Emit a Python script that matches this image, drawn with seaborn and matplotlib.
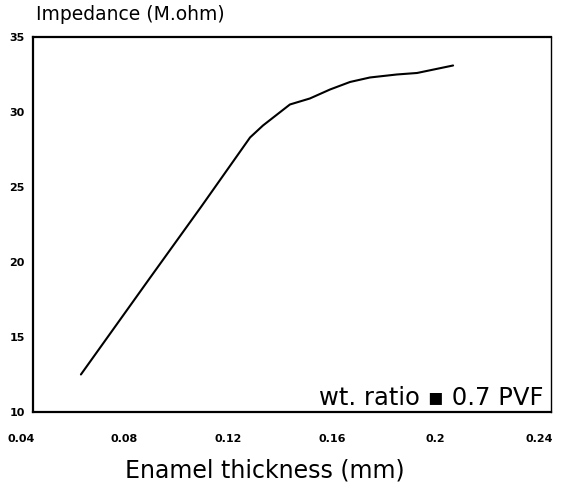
import matplotlib
matplotlib.use("Agg")
import matplotlib.pyplot as plt
import matplotlib.transforms as mtransforms
import seaborn as sns
import pandas as pd

thickness_mm = [0.0585, 0.085, 0.105, 0.1238, 0.1288, 0.1392, 0.1469, 0.1547,
                0.1624, 0.1701, 0.1805, 0.1883, 0.2022]
impedance_mohm = [12.5, 18.9, 23.7, 28.3, 29.1, 30.5, 30.9, 31.5,
                  32.0, 32.3, 32.5, 32.6, 33.1]
x_ticks = [0.04, 0.08, 0.12, 0.16, 0.2, 0.24]
x_tick_labels = ["0.04", "0.08", "0.12", "0.16", "0.2", "0.24"]
y_ticks = [10, 15, 20, 25, 30, 35]

sns.set_style("white")
plt.rcParams['font.family'] = ['DejaVu Sans']

df = pd.DataFrame({"x": thickness_mm, "y": impedance_mohm})

fig = plt.figure(figsize=(5.66, 4.95), dpi=100)
ax = fig.add_axes([0.0583, 0.1677, 0.9152, 0.7576])
sns.lineplot(data=df, x="x", y="y", ax=ax, color="black", linewidth=1.5, sort=False)

ax.set_xlim(0.04, 0.24)
ax.set_ylim(10, 35)
ax.set_xticks(x_ticks)
ax.set_xticklabels(x_tick_labels, fontsize=8, fontweight="bold", color="black")
ax.set_yticks(y_ticks)
ax.set_yticklabels([str(v) for v in y_ticks], fontsize=8, fontweight="bold", color="black")
ax.tick_params(axis="y", direction="out", length=4, width=1, pad=2)
ax.tick_params(axis="x", direction="in", length=3, width=1, pad=16)
shift = mtransforms.ScaledTranslation(-12 / 100, 0, fig.dpi_scale_trans)
for lab in ax.get_xticklabels():
    lab.set_transform(lab.get_transform() + shift)
ax.set_xlabel("")
ax.set_ylabel("")
for name, sp in ax.spines.items():
    sp.set_visible(True)
    sp.set_color("black")
    sp.set_linewidth(1.6 if name in ("left", "bottom", "top") else 1.0)

fig.text(0.063, 0.952, "Impedance (M.ohm)", fontsize=13.5, ha="left", va="bottom", color="black")
ax.text(0.985, 0.005, "wt. ratio \u25aa 0.7 PVF", transform=ax.transAxes,
        fontsize=17.5, ha="right", va="bottom", color="black")
fig.text(0.468, 0.025, "Enamel thickness (mm)", fontsize=17, ha="center", va="bottom", color="black")

fig.savefig("out.png", dpi=100)
